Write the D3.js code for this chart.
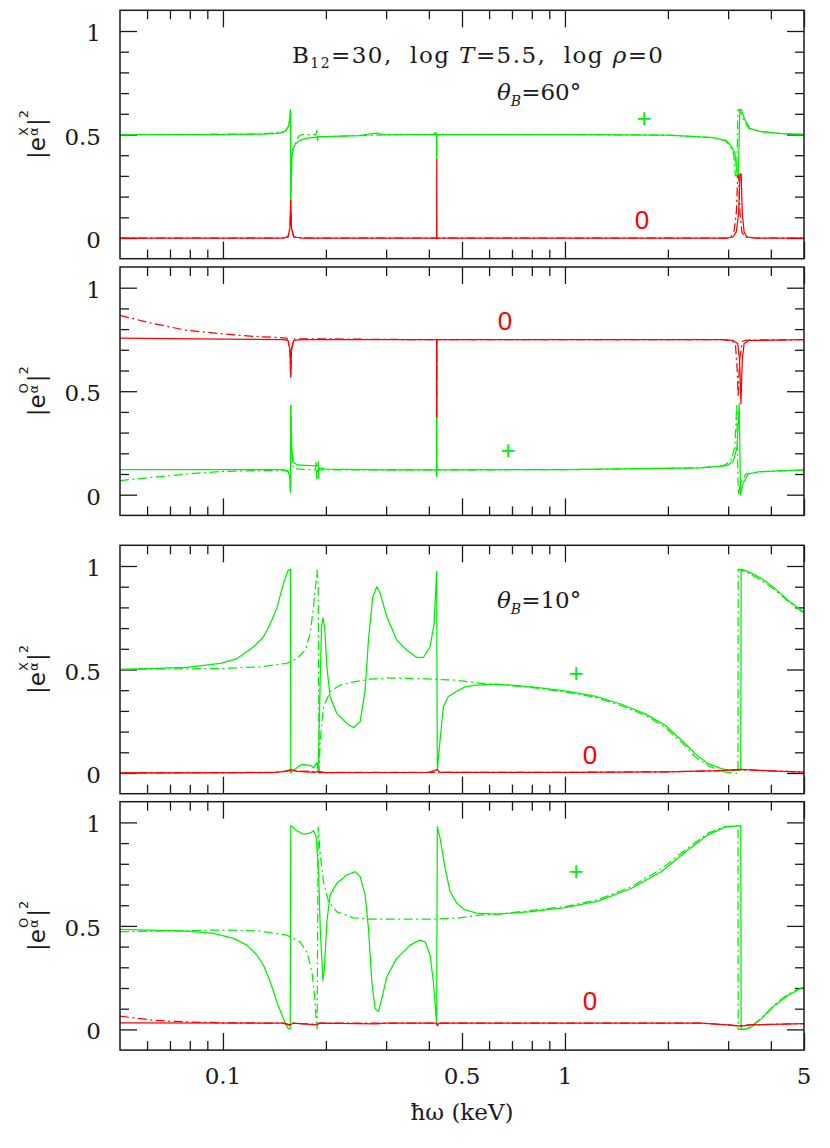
<!DOCTYPE html>
<html><head><meta charset="utf-8">
<script src="https://cdn.jsdelivr.net/npm/d3@7"></script>
<style>body{margin:0;background:#fff}</style>
</head><body>
<svg id="c" width="830" height="1148"></svg>
<script>
// ---------------- data ----------------
const xDomain = [0.05, 5];
const yDomain = [-0.1, 1.1];
const xMajorTicks = [0.1, 0.5, 1, 5];
const xTickLabels = ['0.1', '0.5', '1', '5'];
const xMinorTicks = [0.06,0.07,0.08,0.09,0.2,0.3,0.4,0.6,0.7,0.8,0.9,2,3,4];
const yMajorTicks = [0, 0.5, 1];
const yTickLabels = ['0', '0.5', '1'];
const yMinorTicks = [0.1,0.2,0.3,0.4,0.6,0.7,0.8,0.9];
const panelAngles = [60, 60, 10, 10];
const panelSup = ['X', 'O', 'X', 'O'];
const modeLabels = ['+', '0'];

// panel 1: theta=60, |e^X|^2
const p1PlusSolid = [[0.05,0.5],[0.10,0.5],[0.13,0.502],[0.145,0.505],[0.152,0.515],[0.1555,0.54],[0.157,0.58],[0.1576,0.62],[0.1579,0.18],[0.159,0.38],[0.160,0.425],[0.163,0.455],[0.168,0.472],[0.175,0.481],[0.185,0.486],[0.1885,0.487],[0.189,0.47],[0.1895,0.49],[0.2,0.49],[0.25,0.495],[0.28,0.507],[0.30,0.498],[0.35,0.5],[0.41,0.5],[0.419,0.51],[0.4215,0.5],[0.4218,0.377],[0.4222,0.5],[0.43,0.5],[1.0,0.5],[2.0,0.497],[2.71,0.485],[2.97,0.47],[3.07,0.44],[3.14,0.41],[3.19,0.30],[3.215,0.30],[3.245,0.62],[3.28,0.62],[3.36,0.57],[3.47,0.53],[3.71,0.515],[4.25,0.505],[5.0,0.5]];
const p1PlusDash = [[0.05,0.5],[0.13,0.502],[0.152,0.515],[0.1555,0.54],[0.157,0.58],[0.1576,0.62],[0.1579,0.18],[0.159,0.38],[0.160,0.425],[0.163,0.455],[0.166,0.49],[0.17,0.5],[0.187,0.5],[0.1885,0.52],[0.189,0.49],[0.2,0.49],[0.25,0.495],[0.35,0.5],[0.4215,0.5],[0.4218,0.377],[0.4222,0.5],[1.0,0.5],[2.0,0.497],[2.71,0.485],[2.95,0.47],[3.05,0.44],[3.11,0.41],[3.15,0.30],[3.18,0.30],[3.205,0.62],[3.24,0.62],[3.33,0.57],[3.45,0.53],[3.71,0.515],[4.25,0.505],[5.0,0.5]];
const p1ZeroSolid = [[0.05,0],[0.15,0],[0.155,0.005],[0.157,0.05],[0.1578,0.18],[0.1586,0.05],[0.161,0.005],[0.17,0],[0.4215,0],[0.4218,0.377],[0.4222,0],[3.0,0],[3.10,0.005],[3.17,0.03],[3.22,0.12],[3.25,0.31],[3.275,0.31],[3.30,0.12],[3.34,0.03],[3.40,0.005],[3.6,0],[5,0]];
const p1ZeroDash = [[0.05,0],[0.15,0],[0.155,0.005],[0.157,0.05],[0.1578,0.18],[0.1586,0.05],[0.161,0.005],[0.17,0],[3.0,0],[3.05,0.005],[3.12,0.03],[3.17,0.12],[3.20,0.30],[3.22,0.30],[3.25,0.12],[3.29,0.03],[3.35,0.005],[3.6,0],[5,0]];

// panel 2: theta=60, |e^O|^2
const p2PlusSolid = [[0.05,0.121],[0.15,0.121],[0.155,0.115],[0.157,0.08],[0.1576,0.012],[0.1579,0.431],[0.1585,0.30],[0.159,0.22],[0.1608,0.157],[0.165,0.144],[0.18,0.141],[0.1895,0.141],[0.19,0.16],[0.1905,0.08],[0.191,0.13],[0.2,0.124],[0.3,0.12],[0.42,0.12],[0.4214,0.09],[0.4218,0.374],[0.4222,0.12],[1,0.121],[2.5,0.13],[2.968,0.14],[3.104,0.16],[3.187,0.23],[3.232,0.44],[3.262,0.0],[3.32,0.055],[3.431,0.10],[3.713,0.111],[5,0.12]];
const p2PlusDash = [[0.05,0.068],[0.0627,0.084],[0.0785,0.1],[0.0982,0.112],[0.1229,0.116],[0.15,0.118],[0.155,0.112],[0.157,0.08],[0.1576,0.012],[0.1579,0.431],[0.1585,0.30],[0.159,0.2],[0.161,0.125],[0.186,0.12],[0.1875,0.16],[0.188,0.07],[0.189,0.12],[0.3,0.12],[0.42,0.12],[0.4214,0.09],[0.4218,0.374],[0.4222,0.12],[1,0.121],[2.5,0.13],[2.9,0.14],[3.05,0.16],[3.14,0.23],[3.18,0.44],[3.21,0.0],[3.26,0.055],[3.38,0.1],[3.7,0.111],[5,0.12]];
const p2ZeroSolid = [[0.05,0.757],[0.10,0.752],[0.15,0.749],[0.155,0.745],[0.157,0.70],[0.1578,0.568],[0.1586,0.70],[0.161,0.745],[0.17,0.749],[0.4215,0.749],[0.4218,0.374],[0.4222,0.749],[2.9,0.749],[3.1,0.745],[3.2,0.73],[3.24,0.65],[3.27,0.44],[3.3,0.65],[3.34,0.73],[3.45,0.745],[5,0.749]];
const p2ZeroDash = [[0.05,0.866],[0.0627,0.826],[0.0785,0.794],[0.0982,0.778],[0.1229,0.765],[0.1538,0.757],[0.157,0.70],[0.1578,0.568],[0.1586,0.70],[0.161,0.752],[0.1925,0.753],[0.3,0.75],[0.4215,0.749],[0.4218,0.374],[0.4222,0.749],[2.9,0.749],[3.05,0.745],[3.15,0.73],[3.19,0.6],[3.21,0.47],[3.24,0.65],[3.3,0.74],[3.4,0.747],[5,0.749]];

// panel 3: theta=10, |e^X|^2
const p3PlusSolid = [[0.05,0.5],[0.0785,0.51],[0.0982,0.53],[0.110,0.553],[0.1229,0.61],[0.1314,0.658],[0.1375,0.72],[0.1439,0.80],[0.1503,0.916],[0.1549,0.977],[0.1576,0.985],[0.1579,0.0],[0.1608,0.013],[0.1702,0.042],[0.1799,0.037],[0.1839,0.025],[0.1882,0.05],[0.1899,0.01],[0.1916,0.3],[0.1941,0.706],[0.1963,0.75],[0.1986,0.69],[0.2013,0.513],[0.2058,0.367],[0.2153,0.287],[0.2303,0.239],[0.2407,0.22],[0.2518,0.247],[0.2604,0.40],[0.2663,0.642],[0.2743,0.852],[0.2818,0.9],[0.2881,0.868],[0.3014,0.755],[0.3222,0.642],[0.3446,0.594],[0.3688,0.558],[0.3855,0.558],[0.4033,0.61],[0.4143,0.72],[0.4215,0.973],[0.4235,0.013],[0.4313,0.158],[0.4411,0.32],[0.456,0.37],[0.4772,0.39],[0.5104,0.416],[0.5459,0.424],[0.6385,0.429],[0.7993,0.416],[1.0,0.397],[1.2235,0.371],[1.464,0.332],[1.713,0.287],[1.96,0.232],[2.193,0.158],[2.398,0.094],[2.622,0.045],[2.87,0.021],[3.069,0.010],[3.267,0.016],[3.275,0.985],[3.431,0.973],[3.755,0.94],[4.107,0.892],[4.491,0.835],[5.0,0.777]];
const p3PlusDash = [[0.05,0.5],[0.0982,0.505],[0.1285,0.513],[0.1538,0.53],[0.1645,0.553],[0.1741,0.594],[0.1799,0.675],[0.1839,0.80],[0.1873,0.932],[0.1885,0.98],[0.1899,0.9],[0.191,0.01],[0.1925,0.158],[0.1968,0.32],[0.2058,0.393],[0.2201,0.425],[0.2407,0.44],[0.2693,0.453],[0.3014,0.459],[0.377,0.456],[0.4218,0.452],[0.4772,0.449],[0.5459,0.436],[0.6385,0.427],[0.7993,0.413],[1.0,0.392],[1.2235,0.366],[1.464,0.325],[1.713,0.28],[1.96,0.222],[2.193,0.148],[2.398,0.08],[2.622,0.035],[2.87,0.008],[3.1,0.0],[3.205,0.0],[3.21,0.985],[3.431,0.965],[3.755,0.93],[4.107,0.885],[4.491,0.83],[5,0.772]];
const p3ZeroSolid = [[0.05,0.0],[0.14,0.002],[0.152,0.008],[0.158,0.016],[0.165,0.008],[0.185,0.003],[0.19,0.008],[0.2,0.002],[0.4,0.003],[0.4235,0.016],[0.43,0.003],[1.0,0.003],[2.0,0.006],[2.8,0.012],[3.27,0.018],[4,0.01],[5,0.004]];
const p3ZeroDash = [[0.05,0.0],[0.14,0.003],[0.155,0.01],[0.165,0.01],[0.185,0.006],[0.19,0.002],[0.25,0.003],[1.0,0.003],[2.0,0.006],[2.8,0.01],[3.2,0.016],[4,0.01],[5,0.004]];

// panel 4: theta=10, |e^O|^2
const p4PlusSolid = [[0.05,0.483],[0.0785,0.475],[0.0939,0.464],[0.1074,0.44],[0.1175,0.407],[0.1257,0.359],[0.1314,0.31],[0.1375,0.229],[0.1439,0.131],[0.1503,0.051],[0.1549,0.006],[0.1573,0.003],[0.1579,0.985],[0.1645,0.96],[0.172,0.943],[0.1799,0.948],[0.1839,0.96],[0.1873,0.932],[0.1904,0.75],[0.1925,0.488],[0.196,0.237],[0.1977,0.28],[0.2013,0.52],[0.2058,0.65],[0.2153,0.706],[0.2303,0.746],[0.2435,0.762],[0.2518,0.738],[0.2604,0.65],[0.2663,0.488],[0.2725,0.229],[0.2786,0.100],[0.2848,0.087],[0.2914,0.149],[0.3014,0.254],[0.3222,0.343],[0.3524,0.407],[0.377,0.431],[0.3899,0.423],[0.4033,0.359],[0.4124,0.229],[0.4215,0.028],[0.4235,0.98],[0.4313,0.924],[0.4462,0.78],[0.4613,0.666],[0.4826,0.61],[0.5104,0.577],[0.5582,0.56],[0.6385,0.557],[0.7993,0.569],[1.0,0.588],[1.251,0.62],[1.566,0.682],[1.917,0.763],[2.292,0.868],[2.622,0.94],[2.934,0.977],[3.267,0.984],[3.275,0.003],[3.357,0.0],[3.51,0.011],[3.755,0.052],[4.107,0.116],[4.491,0.165],[5.0,0.205]];
const p4PlusDash = [[0.05,0.472],[0.0982,0.48],[0.1285,0.475],[0.1538,0.455],[0.1681,0.423],[0.1759,0.374],[0.1821,0.277],[0.1861,0.131],[0.1873,0.034],[0.1885,0.003],[0.1899,0.977],[0.1925,0.843],[0.1968,0.714],[0.2035,0.617],[0.2153,0.568],[0.2407,0.539],[0.2693,0.533],[0.3371,0.533],[0.4218,0.533],[0.4934,0.539],[0.5582,0.552],[0.6385,0.557],[1.0,0.593],[1.251,0.627],[1.566,0.69],[1.917,0.775],[2.292,0.878],[2.622,0.948],[2.934,0.98],[3.205,0.984],[3.21,0.0],[3.357,0.0],[3.51,0.015],[3.755,0.055],[4.107,0.12],[4.491,0.17],[5,0.207]];
const p4ZeroSolid = [[0.05,0.031],[0.15,0.03],[0.157,0.02],[0.16,0.03],[0.1885,0.022],[0.191,0.03],[0.28,0.027],[0.3,0.03],[0.4215,0.03],[0.4235,0.018],[0.428,0.03],[2.5,0.03],[3.0,0.022],[3.27,0.016],[3.5,0.022],[5,0.028]];
const p4ZeroDash = [[0.05,0.064],[0.0627,0.044],[0.0785,0.036],[0.1,0.032],[0.15,0.03],[0.157,0.022],[0.16,0.03],[0.1885,0.024],[0.191,0.03],[0.4215,0.03],[0.4235,0.02],[0.428,0.03],[2.5,0.03],[3.0,0.022],[3.2,0.017],[3.5,0.022],[5,0.028]];

// ---------------- layout ----------------
const SERIF = "'DejaVu Serif', serif";
const SANS = "'DejaVu Sans', sans-serif";
const MARK = "'Liberation Sans', Arial, sans-serif";
const GREEN = '#00f000', RED = '#ff0000', INK = '#1a1a1a';
const left = 120, right = 804, panelH = 248.4;
const panelTops = [10.3, 267, 545.3, 801.7];
const series = [
  {plusSolid:p1PlusSolid, plusDash:p1PlusDash, zeroSolid:p1ZeroSolid, zeroDash:p1ZeroDash},
  {plusSolid:p2PlusSolid, plusDash:p2PlusDash, zeroSolid:p2ZeroSolid, zeroDash:p2ZeroDash},
  {plusSolid:p3PlusSolid, plusDash:p3PlusDash, zeroSolid:p3ZeroSolid, zeroDash:p3ZeroDash},
  {plusSolid:p4PlusSolid, plusDash:p4PlusDash, zeroSolid:p4ZeroSolid, zeroDash:p4ZeroDash}
];
// label positions (pixel layout) : [plusX, plusY, zeroX, zeroY]
const markPos = [[644,118,642,220],[508,450,505,321],[576,673,590,755],[576,871,590,1001]];

const svg = d3.select('#c');
const x = d3.scaleLog().domain(xDomain).range([left, right]);
const DASH = '9,3.5,2,3.5';

function styleAxis(g){
  g.select('.domain').remove();
  g.selectAll('.tick line').attr('stroke', INK).attr('stroke-width', 1.3);
  g.selectAll('.tick text').remove();
}

panelTops.forEach((top, i) => {
  const bottom = top + panelH;
  const y = d3.scaleLinear().domain(yDomain).range([bottom, top]);
  const g = svg.append('g');
  const clipId = 'clip' + i;
  svg.append('clipPath').attr('id', clipId).append('rect')
    .attr('x', left).attr('y', top).attr('width', right-left).attr('height', panelH);

  const addX = (vals, size) => {
    g.append('g').attr('transform', `translate(0,${bottom})`)
      .call(d3.axisTop(x).tickValues(vals).tickSize(size).tickSizeOuter(0)).call(styleAxis);
    g.append('g').attr('transform', `translate(0,${top})`)
      .call(d3.axisBottom(x).tickValues(vals).tickSize(size).tickSizeOuter(0)).call(styleAxis);
  };
  addX(xMinorTicks, 9); addX(xMajorTicks, 17);
  const addY = (vals, size) => {
    g.append('g').attr('transform', `translate(${left},0)`)
      .call(d3.axisRight(y).tickValues(vals).tickSize(size).tickSizeOuter(0)).call(styleAxis);
    g.append('g').attr('transform', `translate(${right},0)`)
      .call(d3.axisLeft(y).tickValues(vals).tickSize(size).tickSizeOuter(0)).call(styleAxis);
  };
  addY(yMinorTicks, 9); addY(yMajorTicks, 17);

  yMajorTicks.forEach((v, k) => {
    svg.append('text').attr('x', 101).attr('y', y(v) + 10)
      .attr('text-anchor', 'end').attr('font-family', SERIF).attr('font-size', 23)
      .attr('fill', INK).text(yTickLabels[k]);
  });

  const line = d3.line().x(d => x(d[0])).y(d => y(d[1]));
  const cg = g.append('g').attr('clip-path', `url(#${clipId})`).attr('fill', 'none')
    .attr('stroke-width', 1.25).attr('stroke-linejoin', 'round');
  const s = series[i];
  cg.append('path').attr('d', line(s.plusDash)).attr('stroke', GREEN).attr('stroke-dasharray', DASH);
  cg.append('path').attr('d', line(s.plusSolid)).attr('stroke', GREEN);
  cg.append('path').attr('d', line(s.zeroDash)).attr('stroke', RED).attr('stroke-dasharray', DASH);
  cg.append('path').attr('d', line(s.zeroSolid)).attr('stroke', RED);

  g.append('rect').attr('x', left).attr('y', top).attr('width', right-left).attr('height', panelH)
    .attr('fill', 'none').attr('stroke', INK).attr('stroke-width', 1.5);

  const mp = markPos[i];
  svg.append('text').attr('x', mp[0]).attr('y', mp[1] + 9).attr('text-anchor', 'middle')
    .attr('font-family', MARK).attr('font-size', 26).attr('fill', GREEN).text(modeLabels[0]);
  svg.append('text').attr('x', mp[2]).attr('y', mp[3] + 9.3).attr('text-anchor', 'middle')
    .attr('font-family', MARK).attr('font-size', 26).attr('fill', RED).text(modeLabels[1]);

  yLabel(y(0.5), panelSup[i]);
});

function yLabel(cy, sup){
  const g = svg.append('g');
  const fs = 23, ss = 13;
  const t1 = g.append('text').attr('x', 0).attr('y', 0).attr('font-family', SANS).attr('font-size', fs).attr('fill', INK).text('|e');
  let pos = t1.node().getComputedTextLength() + 1;
  const ts = g.append('text').attr('x', pos).attr('y', -17).attr('font-family', SANS).attr('font-size', ss).attr('fill', INK).text(sup);
  const ta = g.append('text').attr('x', pos).attr('y', -7).attr('font-family', SANS).attr('font-size', ss).attr('fill', INK).text('α');
  pos += Math.max(ts.node().getComputedTextLength(), ta.node().getComputedTextLength()) + 1;
  const t2 = g.append('text').attr('x', pos).attr('y', 0).attr('font-family', SANS).attr('font-size', fs).attr('fill', INK).text('|');
  pos += t2.node().getComputedTextLength();
  const t3 = g.append('text').attr('x', pos).attr('y', -17).attr('font-family', SANS).attr('font-size', ss).attr('fill', INK).text('2');
  pos += t3.node().getComputedTextLength();
  g.attr('transform', `translate(45,${cy + pos/2}) rotate(-90)`);
}

function thetaLabel(x0, y0, deg){
  const t = svg.append('text').attr('x', x0).attr('y', y0).attr('font-family', SERIF).attr('font-size', 23).attr('fill', INK);
  t.append('tspan').attr('font-style', 'italic').text('θ');
  t.append('tspan').attr('font-style', 'italic').attr('font-size', 14).attr('dy', 6).text('B');
  t.append('tspan').attr('dy', -6).text('=' + deg + '°');
}
thetaLabel(497, 100, panelAngles[0]);
thetaLabel(497, 608, panelAngles[2]);

// title: spans x 292 .. 663
const title = svg.append('text').attr('x', 292).attr('y', 63).attr('font-family', SERIF).attr('font-size', 23).attr('fill', INK);
title.append('tspan').text('B');
title.append('tspan').attr('font-size', 14).attr('dy', 5).text('12');
title.append('tspan').attr('dy', -5).text('=30,\u00A0\u00A0log\u00A0');
title.append('tspan').attr('font-style', 'italic').text('T');
title.append('tspan').text('=5.5,\u00A0\u00A0log\u00A0');
title.append('tspan').attr('font-style', 'italic').text('ρ');
title.append('tspan').text('=0');
{
  const w = title.node().getComputedTextLength();
  const target = 371;
  if (Math.abs(w - target) > 4) {
    title.attr('textLength', target).attr('lengthAdjust', 'spacing');
  }
}

xMajorTicks.forEach((v, k) => {
  svg.append('text').attr('x', x(v)).attr('y', 1084).attr('text-anchor', 'middle')
    .attr('font-family', SERIF).attr('font-size', 23).attr('fill', INK).text(xTickLabels[k]);
});
svg.append('text').attr('x', (left+right)/2).attr('y', 1120).attr('text-anchor', 'middle')
  .attr('font-family', SERIF).attr('font-size', 23).attr('fill', INK).text('ħω (keV)');
</script>
</body></html>
